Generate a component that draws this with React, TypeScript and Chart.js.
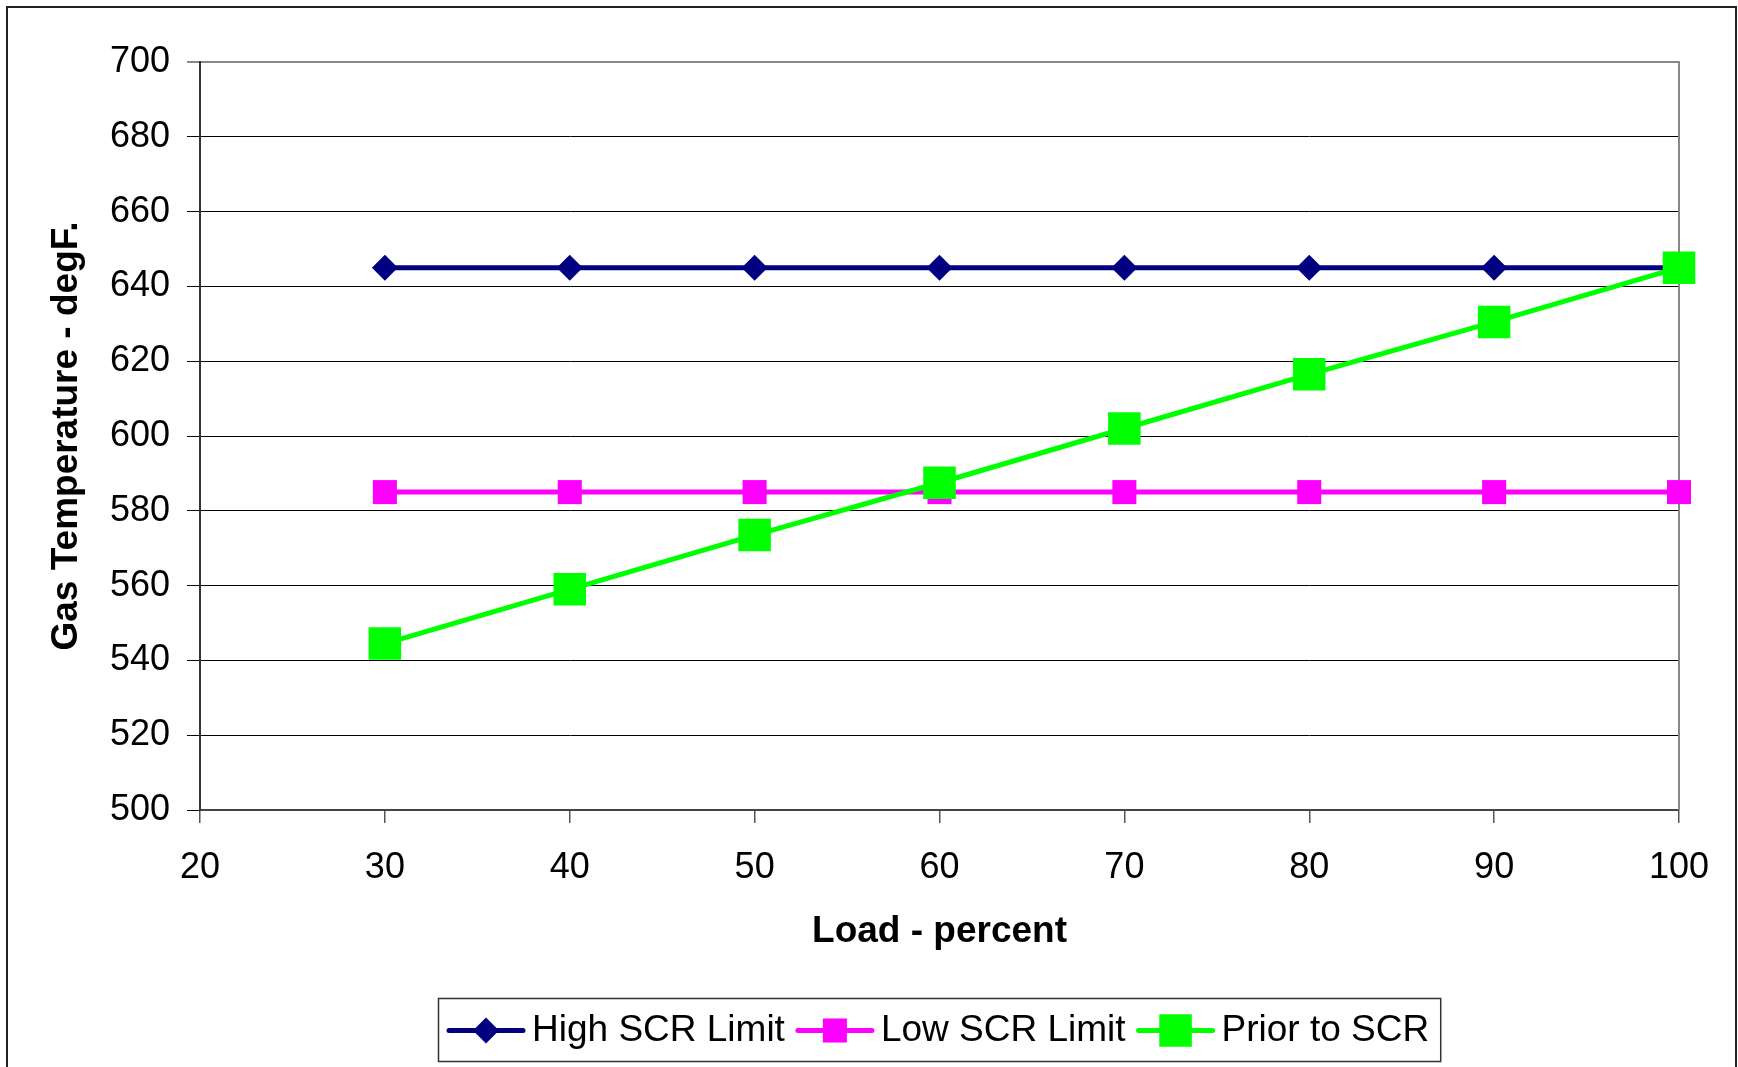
import React, { useEffect, useRef } from 'react';
import { Chart, registerables } from 'chart.js';

Chart.register(...registerables);

// ---- data ----
const loadPercent = [30, 40, 50, 60, 70, 80, 90, 100];
const highSCRLimit = [645, 645, 645, 645, 645, 645, 645, 645];
const lowSCRLimit = [585, 585, 585, 585, 585, 585, 585, 585];
const priorToSCR = [544.5, 559, 573.5, 587.5, 602, 616.5, 630.5, 645];
const seriesNames = ['High SCR Limit', 'Low SCR Limit', 'Prior to SCR'];
const xRange = [20, 100];
const xStep = 10;
const yRange = [500, 700];
const yStep = 20;
const xTitle = 'Load - percent';
const yTitle = 'Gas Temperature - degF.';

// ---- styles ----
const seriesColors = ['#000080', '#FF00FF', '#00FF00'];
const seriesPointStyles = ['rectRot', 'rect', 'rect'];
const seriesPointRadius = [13, 17, 23];
const seriesLineWidth = [5, 5, 5];
const FONT = '"Liberation Sans", Arial, sans-serif';

const W = 1738;
const H = 1067;

function drawMarker(ctx: CanvasRenderingContext2D, style: string, r: number, cx: number, cy: number, color: string) {
  ctx.save();
  ctx.fillStyle = color;
  ctx.beginPath();
  if (style === 'rectRot') {
    ctx.moveTo(cx, cy - r);
    ctx.lineTo(cx + r, cy);
    ctx.lineTo(cx, cy + r);
    ctx.lineTo(cx - r, cy);
    ctx.closePath();
  } else {
    const s = r * Math.SQRT1_2;
    ctx.rect(cx - s, cy - s, 2 * s, 2 * s);
  }
  ctx.fill();
  ctx.restore();
}

const framePlugin = {
  id: 'frame',
  beforeDraw(chart: any) {
    const ctx = chart.ctx as CanvasRenderingContext2D;
    ctx.save();
    ctx.fillStyle = '#ffffff';
    ctx.fillRect(0, 0, chart.width, chart.height);
    ctx.strokeStyle = '#222222';
    ctx.lineWidth = 2;
    ctx.strokeRect(7, 7, 1729, 1200);
    ctx.restore();
  },
  beforeDatasetsDraw(chart: any) {
    const ctx = chart.ctx as CanvasRenderingContext2D;
    const a = chart.chartArea;
    ctx.save();
    ctx.strokeStyle = '#888888';
    ctx.lineWidth = 2;
    ctx.beginPath();
    ctx.moveTo(a.right, a.top - 1);
    ctx.lineTo(a.right, a.bottom);
    ctx.stroke();
    ctx.restore();
  },
};

const legendPlugin = {
  id: 'customLegend',
  afterDraw(chart: any) {
    const ctx = chart.ctx as CanvasRenderingContext2D;
    const a = chart.chartArea;
    ctx.save();
    ctx.font = `37px ${FONT}`;
    const lineLen = 74;
    const gapText = 9;
    const gapItem = 13;
    const pad = 11;
    const widths = seriesNames.map((n) => ctx.measureText(n).width);
    let total = pad * 2;
    widths.forEach((w, i) => {
      total += lineLen + gapText + w + (i < widths.length - 1 ? gapItem : 0);
    });
    const cxCenter = (a.left + a.right) / 2;
    const left = Math.round(cxCenter - total / 2);
    const top = 998;
    const bottom = 1061;
    const cy = 1030.5;
    ctx.fillStyle = '#ffffff';
    ctx.fillRect(left, top, total, bottom - top);
    ctx.strokeStyle = '#333333';
    ctx.lineWidth = 1.5;
    ctx.strokeRect(left + 0.5, top + 0.5, total, bottom - top);
    let x = left + pad;
    seriesNames.forEach((name, i) => {
      ctx.strokeStyle = seriesColors[i];
      ctx.lineWidth = seriesLineWidth[i];
      ctx.lineCap = 'round';
      ctx.beginPath();
      ctx.moveTo(x, cy);
      ctx.lineTo(x + lineLen, cy);
      ctx.stroke();
      drawMarker(ctx, seriesPointStyles[i], seriesPointRadius[i], x + lineLen / 2, cy, seriesColors[i]);
      ctx.fillStyle = '#000000';
      ctx.textBaseline = 'middle';
      ctx.textAlign = 'left';
      ctx.fillText(name, x + lineLen + gapText, cy);
      x += lineLen + gapText + widths[i] + gapItem;
    });
    ctx.restore();
  },
};

export default function App() {
  const canvasRef = useRef<HTMLCanvasElement | null>(null);

  useEffect(() => {
    if (!canvasRef.current) return;
    const seriesValues = [highSCRLimit, lowSCRLimit, priorToSCR];
    const datasets = seriesValues.map((vals, i) => ({
      label: seriesNames[i],
      data: loadPercent.map((x, j) => ({ x, y: vals[j] })),
      borderColor: seriesColors[i],
      backgroundColor: seriesColors[i],
      borderWidth: seriesLineWidth[i],
      pointStyle: seriesPointStyles[i],
      pointRadius: seriesPointRadius[i],
      pointHoverRadius: seriesPointRadius[i],
      pointBackgroundColor: seriesColors[i],
      pointBorderWidth: 0,
      tension: 0,
      clip: false,
      order: 2 - i,
    }));

    const chart = new Chart(canvasRef.current, {
      type: 'line',
      data: { datasets: datasets as any },
      plugins: [framePlugin, legendPlugin],
      options: {
        responsive: false,
        animation: false,
        events: [],
        layout: { padding: { left: 0, top: 62, right: 59, bottom: 113 } },
        plugins: {
          legend: { display: false },
          tooltip: { enabled: false },
          title: { display: false },
        },
        scales: {
          x: {
            type: 'linear',
            min: xRange[0],
            max: xRange[1],
            afterFit: (s: any) => {
              s.height = 144;
            },
            ticks: {
              stepSize: xStep,
              color: '#000000',
              font: { family: FONT, size: 36 },
              padding: 23,
              maxRotation: 0,
            },
            grid: {
              drawOnChartArea: false,
              drawTicks: true,
              tickLength: 13,
              color: '#555555',
              lineWidth: 1.5,
            },
            border: { display: true, color: '#444444', width: 2 },
            title: {
              display: true,
              text: xTitle,
              color: '#000000',
              font: { family: FONT, size: 37, weight: 'bold' },
              padding: { top: 0, bottom: 0 },
            },
          },
          y: {
            type: 'linear',
            min: yRange[0],
            max: yRange[1],
            afterFit: (s: any) => {
              s.width = 200;
            },
            ticks: {
              stepSize: yStep,
              color: '#000000',
              font: { family: FONT, size: 36 },
              padding: 17,
            },
            grid: {
              drawTicks: true,
              tickLength: 13,
              color: (c: any) => (c.tick && c.tick.value === yRange[1] ? '#888888' : '#000000'),
              lineWidth: (c: any) => (c.tick && c.tick.value === yRange[1] ? 2 : 1),
            },
            border: { display: true, color: '#333333', width: 2 },
            title: {
              display: true,
              text: yTitle,
              color: '#000000',
              font: { family: FONT, size: 37, weight: 'bold' },
              padding: { top: 45, bottom: 0 },
            },
          },
        },
      },
    });
    return () => chart.destroy();
  }, []);

  return (
    <div style={{ position: 'absolute', left: 0, top: 0, width: W, height: H, background: '#fff' }}>
      <canvas ref={canvasRef} width={W} height={H} style={{ display: 'block', width: W, height: H }} />
    </div>
  );
}
